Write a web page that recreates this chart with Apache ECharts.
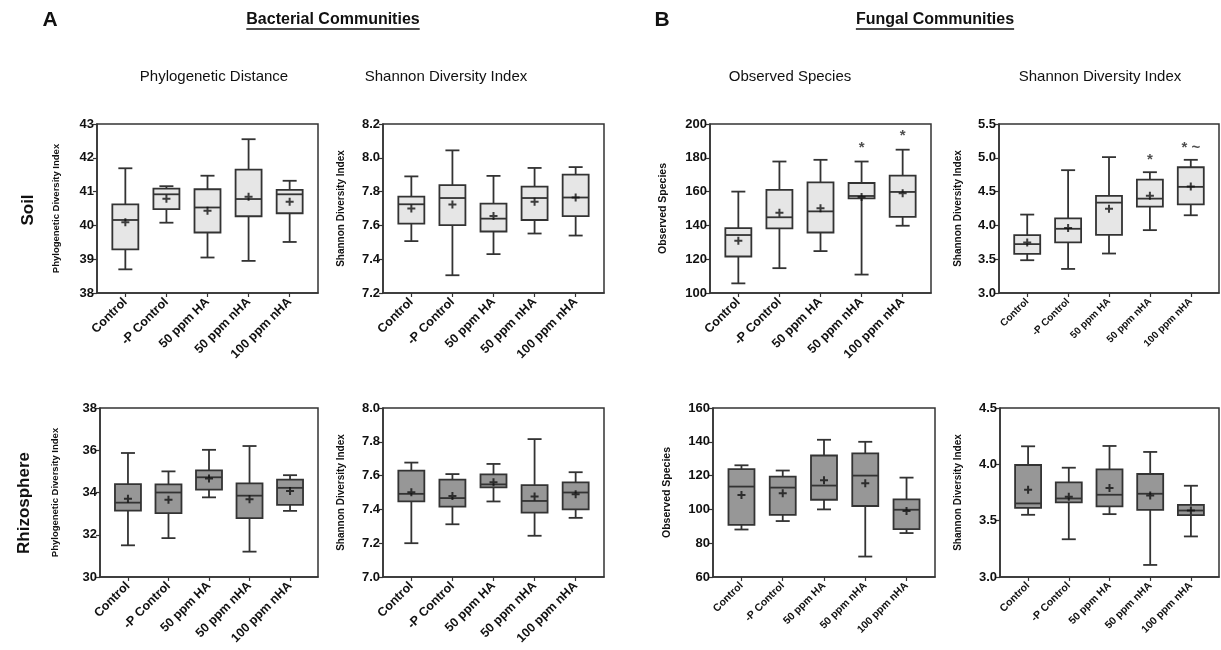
<!DOCTYPE html>
<html><head><meta charset="utf-8">
<script src="https://cdn.jsdelivr.net/npm/echarts@6/dist/echarts.min.js"></script>
<style>html,body{margin:0;padding:0;background:#fff}#c{width:1221px;height:650px}</style>
</head><body><div id="c"></div>
<script>
const groups = ['Control','-P Control','50 ppm HA','50 ppm nHA','100 ppm nHA'];

// box stats per group: [min, Q1, median, Q3, max]
const soilBacPD = [[38.70,39.29,40.16,40.62,41.69],[40.08,40.48,40.92,41.09,41.16],[39.05,39.79,40.53,41.07,41.47],[38.95,40.27,40.78,41.65,42.55],[39.51,40.36,40.92,41.05,41.32]];
const soilBacPDMean = [40.09,40.79,40.43,40.85,40.70];
const soilBacSh = [[7.507,7.61,7.725,7.77,7.89],[7.305,7.602,7.762,7.838,8.044],[7.43,7.564,7.64,7.729,7.893],[7.552,7.632,7.762,7.83,7.94],[7.54,7.655,7.765,7.90,7.945]];
const soilBacShMean = [7.70,7.723,7.655,7.74,7.765];
const soilFunObs = [[105.7,121.6,134.3,138.4,160],[114.7,138.2,144.8,161,177.8],[124.8,135.8,148.3,165.5,178.8],[110.9,156,157.4,165.1,177.8],[139.8,145.1,159.8,169.5,184.8]];
const soilFunObsMean = [130.9,147.5,150.1,156.8,159];
const soilFunSh = [[3.485,3.58,3.723,3.857,4.16],[3.356,3.748,3.95,4.104,4.817],[3.584,3.861,4.337,4.436,5.01],[3.93,4.277,4.396,4.678,4.787],[4.15,4.31,4.57,4.86,4.97]];
const soilFunShMean = [3.748,3.96,4.248,4.44,4.575];
const rhizBacPD = [[31.5,33.14,33.52,34.40,35.87],[31.84,33.02,34.0,34.38,35.0],[33.77,34.14,34.72,35.05,36.02],[31.2,32.79,33.85,34.43,36.2],[33.13,33.41,34.22,34.61,34.82]];
const rhizBacPDMean = [33.71,33.66,34.66,33.68,34.07];
const rhizBacSh = [[7.2,7.447,7.492,7.629,7.677],[7.312,7.417,7.467,7.576,7.609],[7.447,7.53,7.548,7.607,7.669],[7.244,7.381,7.45,7.544,7.816],[7.35,7.40,7.50,7.56,7.62]];
const rhizBacShMean = [7.502,7.48,7.56,7.476,7.49];
const rhizFunObs = [[88.1,90.9,113.5,123.8,126.1],[93.1,96.8,112.9,119.4,123],[100,105.7,114.1,131.9,141.2],[72.1,102,120,133.1,140],[86,88.3,99.8,105.9,118.8]];
const rhizFunObsMean = [108.5,109.5,117.2,115.4,99];
const rhizFunSh = [[3.552,3.614,3.653,3.994,4.16],[3.335,3.662,3.697,3.84,3.97],[3.558,3.626,3.73,3.955,4.163],[3.107,3.596,3.739,3.914,4.11],[3.36,3.55,3.59,3.64,3.81]];
const rhizFunShMean = [3.775,3.712,3.789,3.724,3.59];

// significance marks: [groupIndex, value, text]
const soilFunObsSig = [[3,186,'*'],[4,193,'*']];
const soilFunShSig = [[3,4.97,'*'],[4,5.14,'* ~']];

// y-axis ranges: [min, max, step, decimals]
const yRanges = [[38,43,1,0],[7.2,8.2,0.2,1],[100,200,20,0],[3.0,5.5,0.5,1],[30,38,2,0],[7.0,8.0,0.2,1],[60,160,20,0],[3.0,4.5,0.5,1]];
const yNames = ['Phylogenetic Diversity Index','Shannon Diversity Index','Observed Species','Shannon Diversity Index','Phylogenetic Diversity Index','Shannon Diversity Index','Observed Species','Shannon Diversity Index'];

const boxes = [soilBacPD, soilBacSh, soilFunObs, soilFunSh, rhizBacPD, rhizBacSh, rhizFunObs, rhizFunSh];
const means = [soilBacPDMean, soilBacShMean, soilFunObsMean, soilFunShMean, rhizBacPDMean, rhizBacShMean, rhizFunObsMean, rhizFunShMean];

const gridPos = [
  {left:97, top:124, width:221, height:169},
  {left:383, top:124, width:221, height:169},
  {left:710, top:124, width:221, height:169},
  {left:999, top:124, width:220, height:169},
  {left:100, top:408, width:218, height:169},
  {left:383, top:408, width:221, height:169},
  {left:713, top:408, width:222, height:169},
  {left:1000, top:408, width:219, height:169}
];
const xFont = [12.5,12.5,12.5,10,12.5,12.5,10.5,10.5];
const nameGap = [36,37,41,36,40,37,40,37];
const nameFont = [9.5,10,10.5,10,9.5,10,10.5,10];
const FONT = '"Liberation Sans", Arial, sans-serif';
const INK = '#333';
const soilFill = '#e6e6e6', rhizFill = '#979797';

function boxRenderer(fill){
  return function(params, api){
    const x = api.value(0);
    const pMin = api.coord([x, api.value(1)]);
    const pQ1 = api.coord([x, api.value(2)]);
    const pMed = api.coord([x, api.value(3)]);
    const pQ3 = api.coord([x, api.value(4)]);
    const pMax = api.coord([x, api.value(5)]);
    const cx = pMin[0], bw = 26, cw = 14;
    const ls = {stroke: INK, lineWidth: 1.8};
    return {type:'group', children:[
      {type:'line', shape:{x1:cx,y1:pMax[1],x2:cx,y2:pQ3[1]}, style:ls},
      {type:'line', shape:{x1:cx,y1:pQ1[1],x2:cx,y2:pMin[1]}, style:ls},
      {type:'line', shape:{x1:cx-cw/2,y1:pMax[1],x2:cx+cw/2,y2:pMax[1]}, style:ls},
      {type:'line', shape:{x1:cx-cw/2,y1:pMin[1],x2:cx+cw/2,y2:pMin[1]}, style:ls},
      {type:'rect', shape:{x:cx-bw/2,y:pQ3[1],width:bw,height:pQ1[1]-pQ3[1]}, style:{fill:fill, stroke:INK, lineWidth:1.8}},
      {type:'line', shape:{x1:cx-bw/2,y1:pMed[1],x2:cx+bw/2,y2:pMed[1]}, style:ls}
    ]};
  };
}

const grid = [], xAxis = [], yAxis = [], series = [];
for (let i = 0; i < 8; i++) {
  const [mn, mx, st, dec] = yRanges[i];
  grid.push(Object.assign({show:true, borderColor:INK, borderWidth:1.5, backgroundColor:'transparent'}, gridPos[i]));
  xAxis.push({
    type:'value', gridIndex:i, min:-0.69, max:4.69,
    axisLine:{show:true, onZero:false, lineStyle:{color:INK, width:1.5}},
    axisTick:{show:true, customValues:[0,1,2,3,4], length:4, lineStyle:{color:INK, width:1.2}},
    splitLine:{show:false},
    axisLabel:{customValues:[0,1,2,3,4], rotate:45, margin:7, fontFamily:FONT, fontWeight:'bold', fontSize:xFont[i], color:'#111',
      formatter: v => groups[Math.round(v)]}
  });
  yAxis.push({
    type:'value', gridIndex:i, min:mn, max:mx, interval:st,
    name: yNames[i], nameLocation:'middle', nameGap: nameGap[i],
    nameTextStyle:{fontFamily:FONT, fontWeight:'bold', fontSize:nameFont[i], color:'#111'},
    axisLine:{show:true, onZero:false, lineStyle:{color:INK, width:1.5}},
    axisTick:{show:true, length:4, lineStyle:{color:INK, width:1.2}},
    splitLine:{show:false},
    axisLabel:{margin:3, fontFamily:FONT, fontWeight:'bold', fontSize:13, color:'#111', formatter: v => v.toFixed(dec)}
  });
  series.push({
    type:'custom', xAxisIndex:i, yAxisIndex:i,
    renderItem: boxRenderer(i < 4 ? soilFill : rhizFill),
    data: boxes[i].map((b, k) => [k].concat(b)),
    encode:{x:0, y:[1,2,3,4,5]}, silent:true, animation:false
  });
  series.push({
    type:'scatter', xAxisIndex:i, yAxisIndex:i, silent:true, animation:false,
    symbol:'path://M3,0H5V3H8V5H5V8H3V5H0V3H3Z', symbolSize:8,
    itemStyle:{color:'#111'},
    data: means[i].map((m, k) => [k, m]), z:5
  });
}
[[2, soilFunObsSig],[3, soilFunShSig]].forEach(([gi, sig]) => {
  series.push({
    type:'scatter', xAxisIndex:gi, yAxisIndex:gi, silent:true, animation:false,
    symbolSize:1, itemStyle:{color:'rgba(0,0,0,0)'},
    label:{show:true, position:'inside', formatter: p => p.value[2], fontFamily:FONT, fontWeight:'bold', fontSize:15, color:'#222'},
    data: sig
  });
});

// header texts with underline
const ctx = document.createElement('canvas').getContext('2d');
const titleFont = 'bold 16px "Liberation Sans"';
ctx.font = titleFont;
function underlined(text, cx, cy){
  const w = ctx.measureText(text).width;
  return [
    {type:'text', x:cx, y:cy, style:{text:text, font:titleFont, fill:'#111', align:'center', verticalAlign:'middle'}},
    {type:'line', shape:{x1:cx-w/2, y1:cy+9, x2:cx+w/2, y2:cy+9}, style:{stroke:'#111', lineWidth:1.5}}
  ];
}
const sub = '15px "Liberation Sans"';
const graphic = [
  {type:'text', x:50, y:20, style:{text:'A', font:'bold 21px "Liberation Sans"', fill:'#111', align:'center', verticalAlign:'middle'}},
  {type:'text', x:662, y:20, style:{text:'B', font:'bold 21px "Liberation Sans"', fill:'#111', align:'center', verticalAlign:'middle'}},
  ...underlined('Bacterial Communities', 333, 20),
  ...underlined('Fungal Communities', 935, 20),
  {type:'text', x:214, y:77, style:{text:'Phylogenetic Distance', font:sub, fill:'#111', align:'center', verticalAlign:'middle'}},
  {type:'text', x:446, y:77, style:{text:'Shannon Diversity Index', font:sub, fill:'#111', align:'center', verticalAlign:'middle'}},
  {type:'text', x:790, y:77, style:{text:'Observed Species', font:sub, fill:'#111', align:'center', verticalAlign:'middle'}},
  {type:'text', x:1100, y:77, style:{text:'Shannon Diversity Index', font:sub, fill:'#111', align:'center', verticalAlign:'middle'}},
  {type:'text', x:28, y:210, rotation:Math.PI/2, style:{text:'Soil', font:'bold 17px "Liberation Sans"', fill:'#111', align:'center', verticalAlign:'middle'}},
  {type:'text', x:24, y:503, rotation:Math.PI/2, style:{text:'Rhizosphere', font:'bold 17px "Liberation Sans"', fill:'#111', align:'center', verticalAlign:'middle'}}
];

const chart = echarts.init(document.getElementById('c'), null, {renderer:'canvas'});
chart.setOption({animation:false, backgroundColor:'#fff', grid, xAxis, yAxis, series, graphic});
</script></body></html>
